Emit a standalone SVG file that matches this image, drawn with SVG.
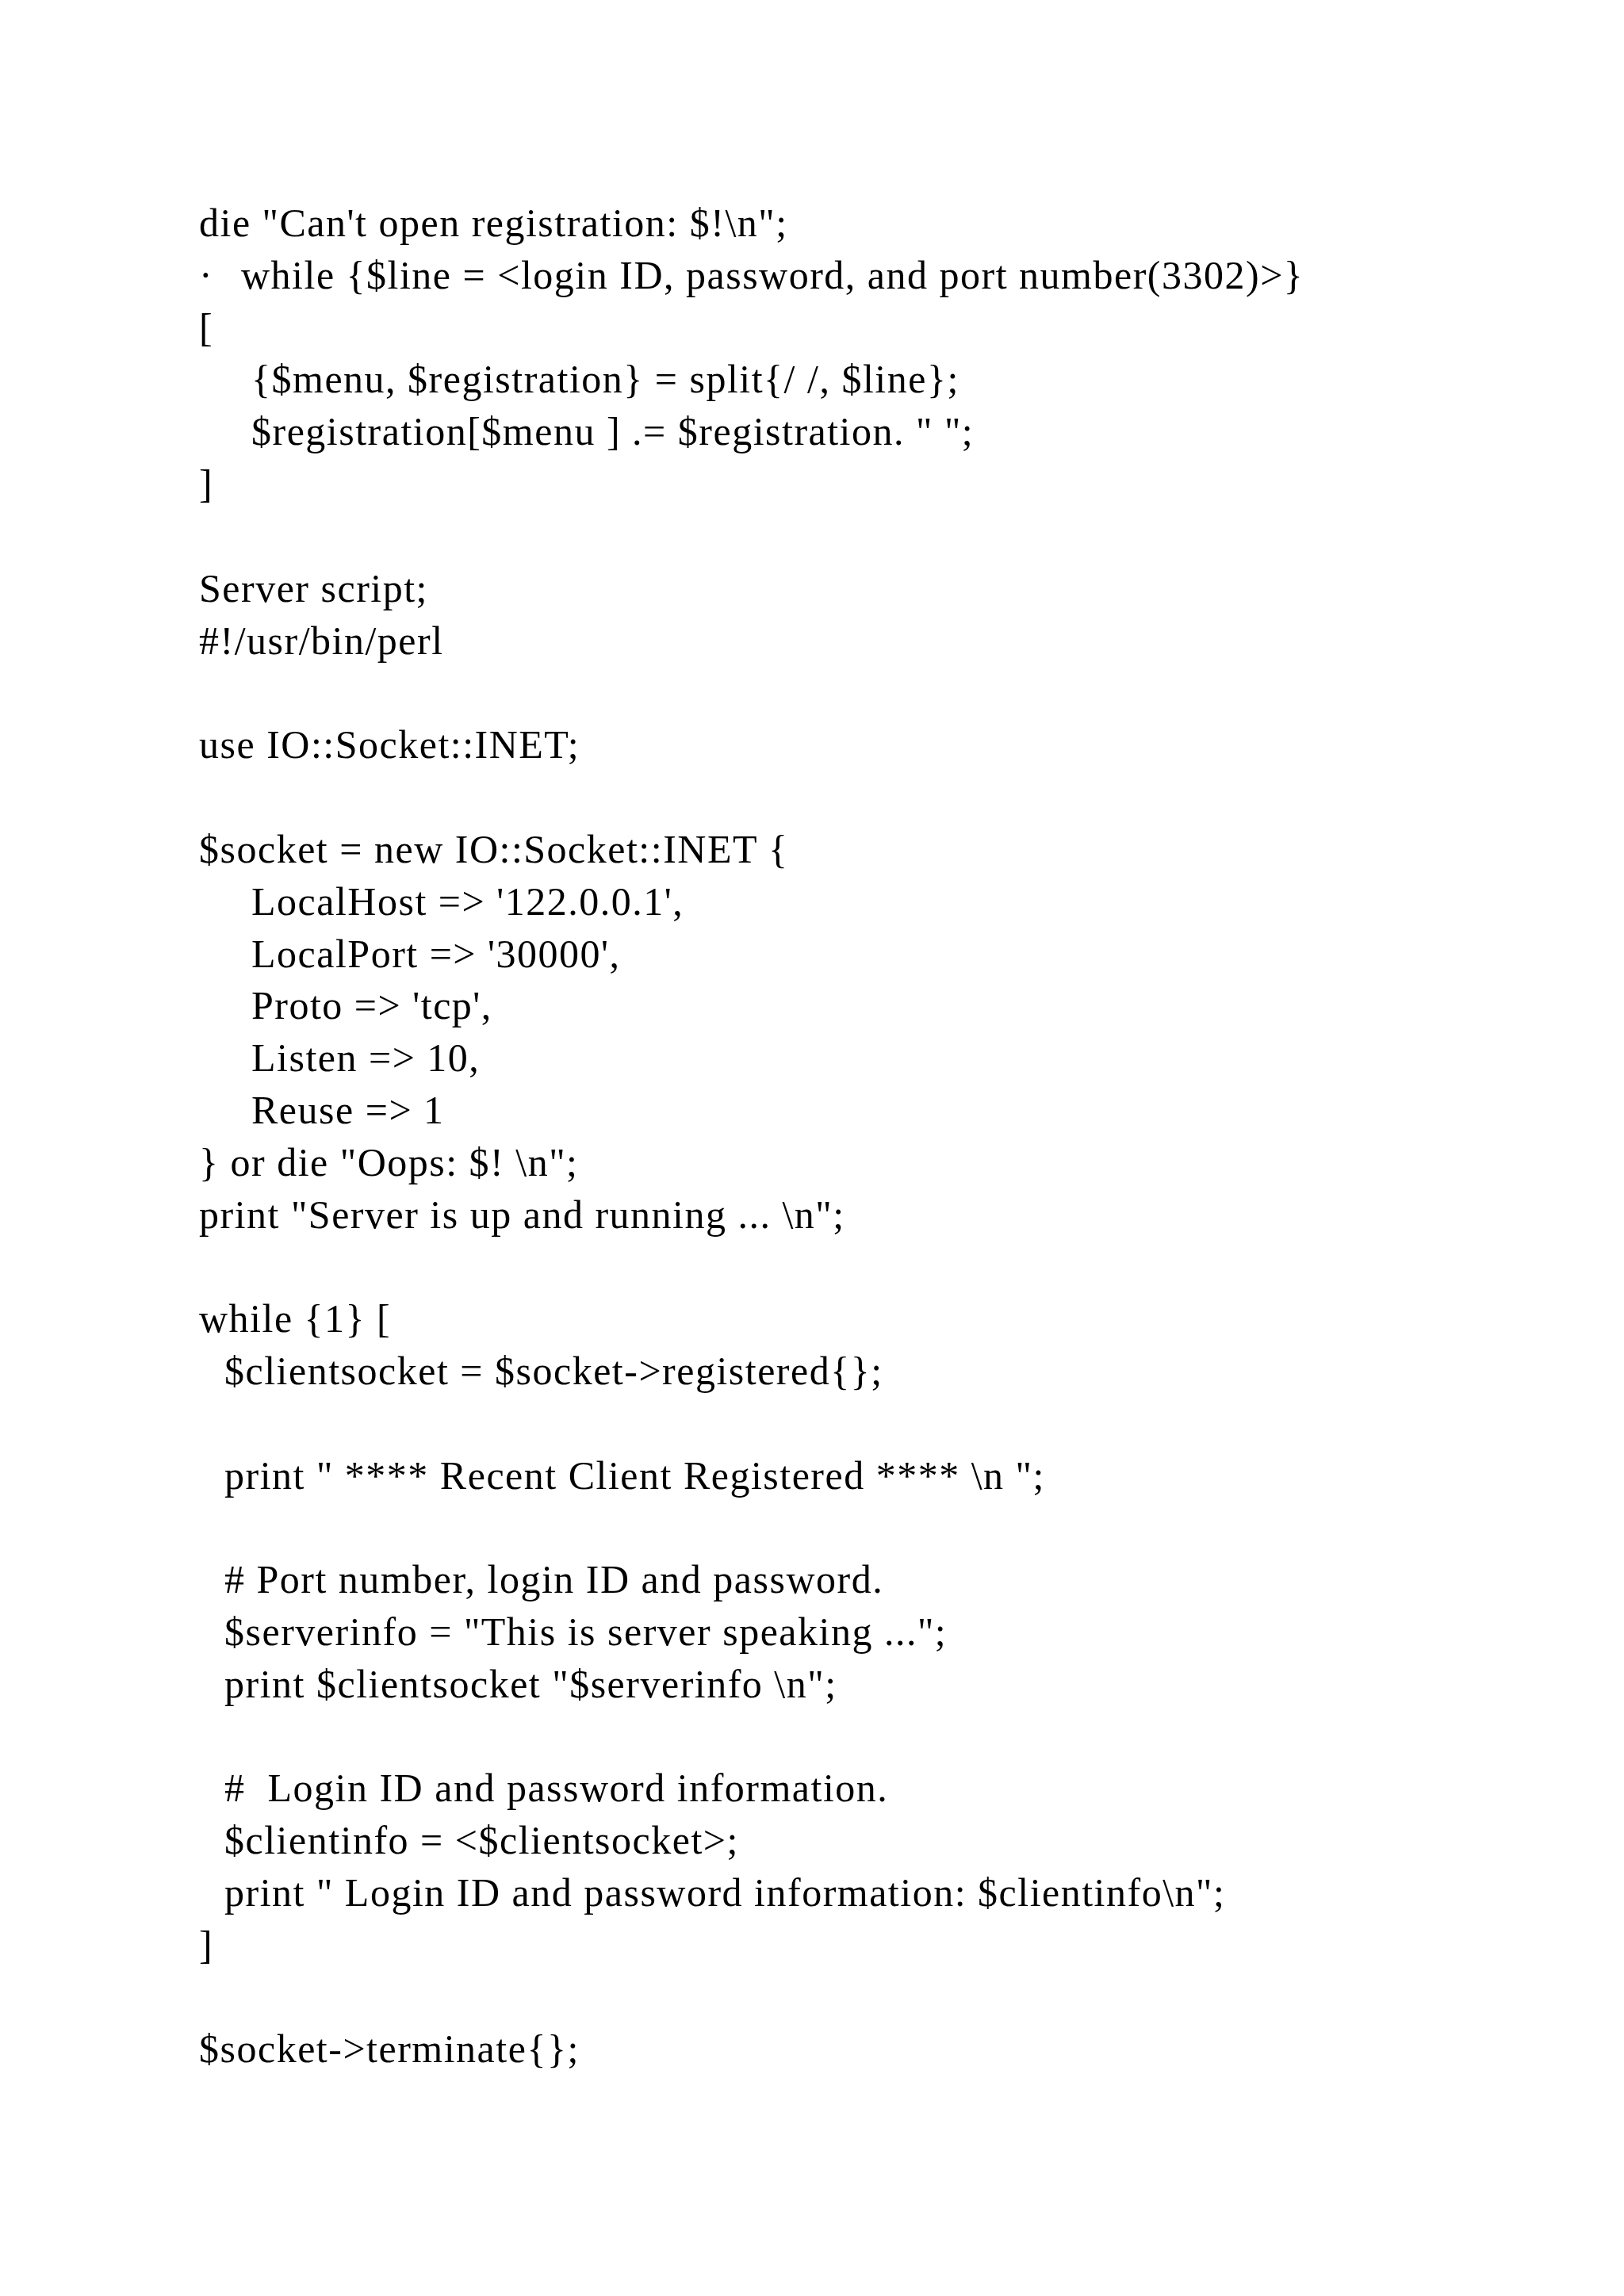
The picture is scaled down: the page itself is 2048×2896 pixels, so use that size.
<svg xmlns="http://www.w3.org/2000/svg" width="2048" height="2896" viewBox="0 0 2048 2896">
<style>text{font-family:"Liberation Serif",serif;font-size:50px;fill:#000;letter-spacing:1.5px;white-space:pre}</style>
<rect width="2048" height="2896" fill="#fff"/>
<g id="code">
<text x="251" y="298">die "Can't open registration: $!\n";</text>
<text x="251" y="364">·</text><text x="304" y="364">while {$line = &lt;login ID, password, and port number(3302)&gt;}</text>
<text x="251" y="430">[</text>
<text x="317" y="495">{$menu, $registration} = split{/ /, $line};</text>
<text x="317" y="561">$registration[$menu ] .= $registration. " ";</text>
<text x="251" y="627">]</text>
<text x="251" y="759">Server script;</text>
<text x="251" y="825">#!/usr/bin/perl</text>
<text x="251" y="956">use IO::Socket::INET;</text>
<text x="251" y="1088">$socket = new IO::Socket::INET {</text>
<text x="317" y="1154">LocalHost =&gt; '122.0.0.1',</text>
<text x="317" y="1220">LocalPort =&gt; '30000',</text>
<text x="317" y="1285">Proto =&gt; 'tcp',</text>
<text x="317" y="1351">Listen =&gt; 10,</text>
<text x="317" y="1417">Reuse =&gt; 1</text>
<text x="251" y="1483">} or die "Oops: $! \n";</text>
<text x="251" y="1549">print "Server is up and running ... \n";</text>
<text x="251" y="1680">while {1} [</text>
<text x="283" y="1746">$clientsocket = $socket-&gt;registered{};</text>
<text x="283" y="1878">print " **** Recent Client Registered **** \n ";</text>
<text x="283" y="2009"># Port number, login ID and password.</text>
<text x="283" y="2075">$serverinfo = "This is server speaking ...";</text>
<text x="283" y="2141">print $clientsocket "$serverinfo \n";</text>
<text x="283" y="2272">#  Login ID and password information.</text>
<text x="283" y="2338">$clientinfo = &lt;$clientsocket&gt;;</text>
<text x="283" y="2404">print " Login ID and password information: $clientinfo\n";</text>
<text x="251" y="2470">]</text>
<text x="251" y="2601">$socket-&gt;terminate{};</text>
</g>
</svg>
